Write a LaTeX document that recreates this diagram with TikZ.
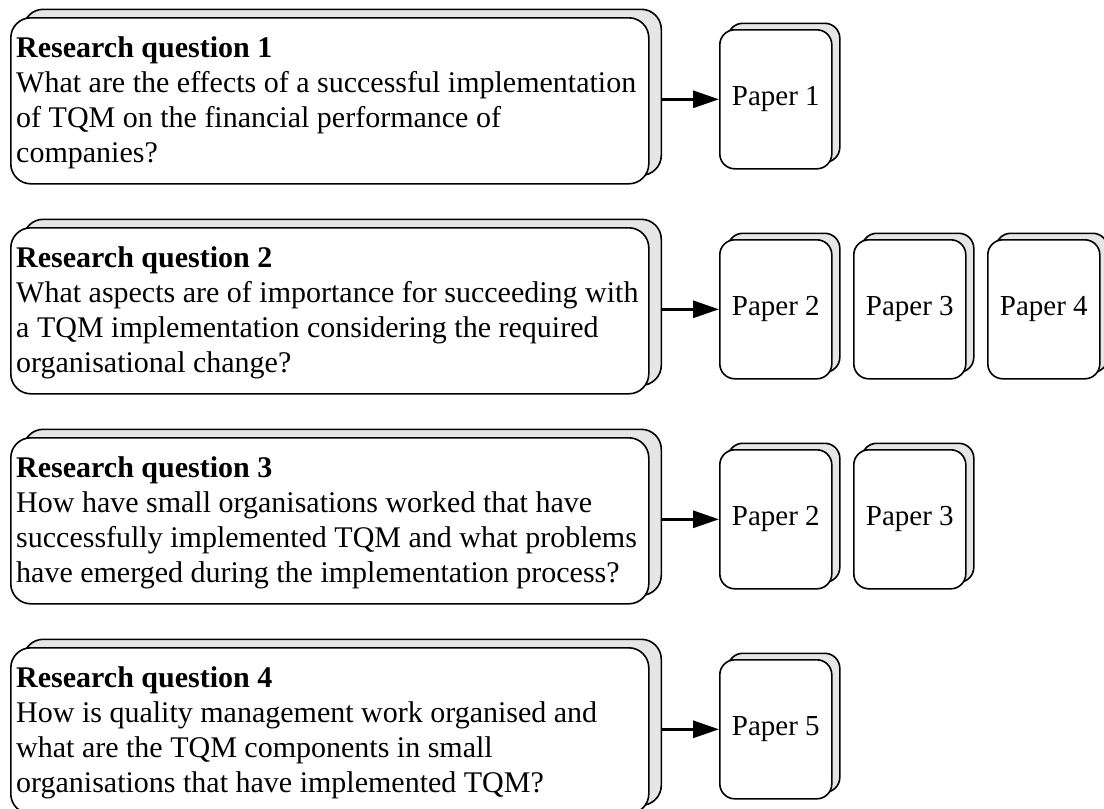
\documentclass[tikz,border=0pt]{standalone}
\usepackage{fontspec}
\setmainfont{Liberation Serif}
\usetikzlibrary{arrows.meta}
\definecolor{sheetgray}{HTML}{E6E6E6}
\tikzset{
  qcard/.style={draw=black, line width=1.6pt, rounded corners=20pt,
    minimum width=638pt, minimum height=166pt, inner sep=0pt, anchor=north west},
  qback/.style={qcard, fill=sheetgray},
  qfront/.style={qcard, fill=white},
  pcard/.style={draw=black, line width=1.6pt, rounded corners=15pt,
    minimum width=112pt, minimum height=139pt, inner sep=0pt, anchor=north west},
  pback/.style={pcard, fill=sheetgray},
  pfront/.style={pcard, fill=white, font=\fontsize{29}{34}\selectfont},
  qtext/.style={anchor=north west, inner sep=0pt, align=left,
    font=\fontsize{30}{35.2}\selectfont},
  link/.style={line width=3pt, -{Triangle[length=26pt,width=17pt]}},
}
\begin{document}
\begin{tikzpicture}[x=1pt,y=-1pt]
\useasboundingbox (0,0) rectangle (1104,809);
\clip (0,0) rectangle (1104,809);

% question cards: grey sheet behind, white sheet in front
\foreach \r/\T in {1/17,2/227,3/437,4/647}{
  \node[qback]  (q\r b) at (22.5,\T-8.5) {};
  \node[qfront] (q\r)   at (10,\T) {};
}
\node[qtext] (t1) at (16,36) {\textbf{Research question 1}\\
  What are the effects of a successful implementation\\
  of TQM on the financial performance of\\
  companies?};
\node[qtext] (t2) at (16,246) {\textbf{Research question 2}\\
  What aspects are of importance for succeeding with\\
  a TQM implementation considering the required\\
  organisational change?};
\node[qtext] (t3) at (16,456) {\textbf{Research question 3}\\
  How have small organisations worked that have\\
  successfully implemented TQM and what problems\\
  have emerged during the implementation process?};
\node[qtext] (t4) at (16,666) {\textbf{Research question 4}\\
  How is quality management work organised and\\
  what are the TQM components in small\\
  organisations that have implemented TQM?};

% paper stacks
\foreach \r/\T/\k/\n in {1/17/0/1, 2/227/0/2, 2/227/1/3, 2/227/2/4,
                          3/437/0/2, 3/437/1/3, 4/647/0/5}{
  \node[pback]  (p\r\k b) at (727+134*\k,\T+5.5) {};
  \node[pfront] (p\r\k)   at (719+134*\k,\T+12) {Paper \n};
}

% arrows from each question to its first paper
\foreach \r in {1,2,3,4}{
  \draw[link] (q\r b.east |- p\r0.west) -- (p\r0.west);
}
\end{tikzpicture}
\end{document}
